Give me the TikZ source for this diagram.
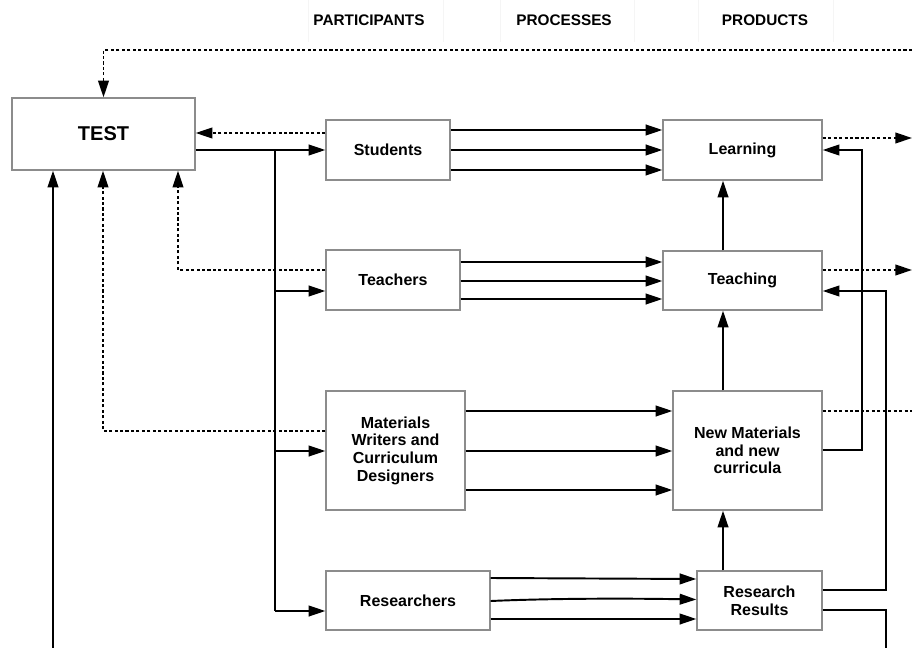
\documentclass[tikz,border=0pt]{standalone}
\usepackage{fontspec}
\setmainfont{Liberation Sans}
\usetikzlibrary{arrows.meta}
\begin{document}
\begin{tikzpicture}[x=0.75pt,y=-0.75pt,
 box/.style={draw=black!45,line width=1pt,fill=white,inner sep=0pt,align=center,font=\bfseries\fontsize{12}{13.2}\selectfont},
 conn/.style={line width=1.45pt,-{Triangle[length=12.5pt,width=8pt]}},
 wire/.style={line width=1.45pt},
 dwire/.style={line width=1.4pt,dash pattern=on 2.3pt off 1.8pt},
 darr/.style={dwire,-{Triangle[length=12.5pt,width=8pt]}},
 head/.style={font=\bfseries\fontsize{11.5}{13}\selectfont},
 faint/.style={draw=black!4,line width=0.5pt}]
\useasboundingbox (0,0) rectangle (912,648);

% faint header cell lines
\foreach \xx in {308,443,500,634,698,833} \draw[faint] (\xx,0) -- (\xx,42);

% headers
\node[head] (h1) at (369,20) {PARTICIPANTS};
\node[head] (h2) at (564,20) {PROCESSES};
\node[head] (h3) at (765,20) {PRODUCTS};

% boxes
\node[box,minimum width=137.25pt,minimum height=54pt,font=\bfseries\fontsize{15}{17}\selectfont] (test) at (103.5,134) {TEST};
\node[box,minimum width=93pt,minimum height=45pt] (stud) at (388,150) {Students};
\node[box,minimum width=119.25pt,minimum height=45pt] (learn) at (742.5,150) {Learning};
\node[box,minimum width=100.5pt,minimum height=45pt] (teach) at (393,280) {Teachers};
\node[box,minimum width=119.25pt,minimum height=44.25pt] (tching) at (742.5,280.5) {Teaching};
\node[box,minimum width=104.25pt,minimum height=89.25pt] (mat) at (395.5,450.5) {Materials\\Writers and\\Curriculum\\Designers};
\node[box,minimum width=111.75pt,minimum height=89.25pt] (nm) at (747.5,450.5) {New Materials\\and new\\curricula};
\node[box,minimum width=123pt,minimum height=44.25pt] (res) at (408,600.5) {Researchers};
\node[box,minimum width=93.75pt,minimum height=44.25pt] (rr) at (759.5,600.5) {Research\\Results};

% coordinates for free ends
\coordinate (topR) at (912,50);
\coordinate (botA) at (53,648);
\coordinate (botB) at (886,648);

% top dashed feedback into TEST
\draw[darr] (topR) -- (103.5,50) -- (test.north);

% TEST -> students and bus
\draw[conn] (test.east |- 0,150) -- (stud.west |- 0,150);
\draw[wire] (275,150) -- (275,611);
\draw[conn] (275,291) -- (teach.west |- 0,291);
\draw[conn] (275,451) -- (mat.west |- 0,451);
\draw[conn] (275,611) -- (res.west |- 0,611);

% dotted returns to TEST
\draw[darr] (stud.west |- 0,133) -- (test.east |- 0,133);
\draw[darr] (teach.west |- 0,270) -- (178,270) -- (test.south -| 178,0);
\draw[darr] (mat.west |- 0,431) -- (103,431) -- (test.south -| 103,0);
\draw[conn] (botA) -- (test.south -| 53,0);

% participants -> products
\foreach \yy in {130,150,170} \draw[conn] (stud.east |- 0,\yy) -- (learn.west |- 0,\yy);
\foreach \yy in {262,281,299} \draw[conn] (teach.east |- 0,\yy) -- (tching.west |- 0,\yy);
\foreach \yy in {411,451,490} \draw[conn] (mat.east |- 0,\yy) -- (nm.west |- 0,\yy);
\draw[conn] (res.east |- 0,578) -- (rr.west |- 0,579);
\draw[conn] (res.east |- 0,601) .. controls (560,598) and (640,598.5) .. (rr.west |- 0,599.5);
\draw[conn] (res.east |- 0,619) -- (rr.west |- 0,619);

% vertical chain
\draw[conn] (rr.north -| 723,0) -- (nm.south -| 723,0);
\draw[conn] (nm.north -| 723,0) -- (tching.south -| 723,0);
\draw[conn] (tching.north -| 723,0) -- (learn.south -| 723,0);

% right-hand feedback
\draw[conn] (nm.east |- 0,450) -- (862,450) -- (862,150) -- (learn.east |- 0,150);
\draw[conn] (rr.east |- 0,590) -- (886,590) -- (886,291) -- (tching.east |- 0,291);
\draw[wire] (rr.east |- 0,610) -- (886,610) -- (botB);

% dashed outputs
\draw[darr] (learn.east |- 0,138) -- (912,138);
\draw[darr] (tching.east |- 0,270) -- (912,270);
\draw[dwire] (nm.east |- 0,411) -- (912,411);
\end{tikzpicture}
\end{document}
